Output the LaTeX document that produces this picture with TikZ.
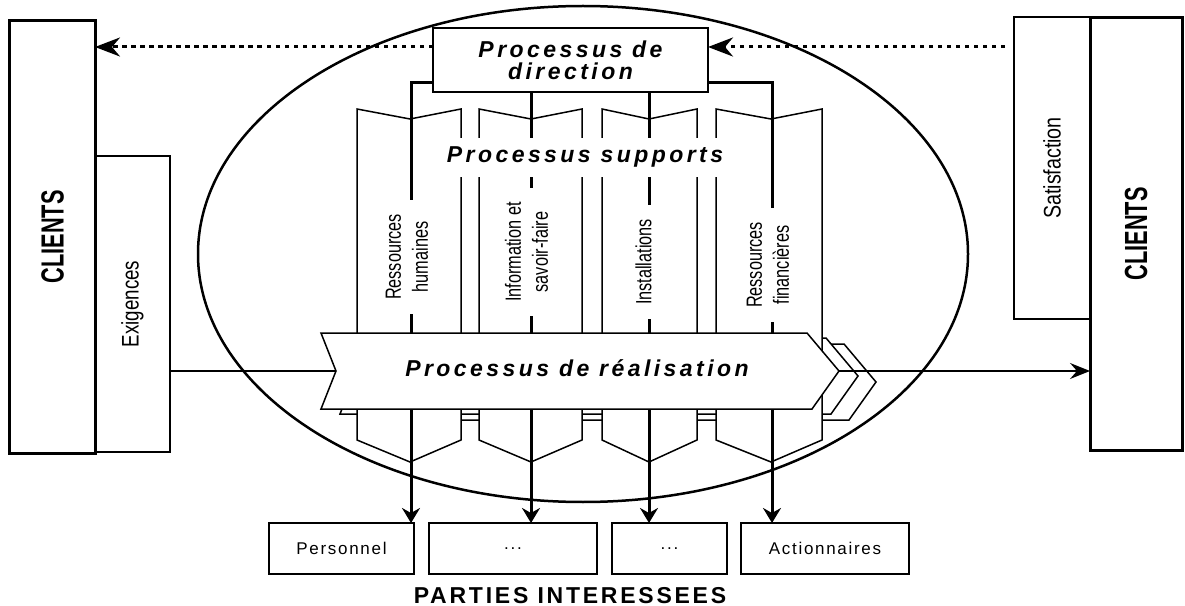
\documentclass[tikz,border=0pt]{standalone}
\usepackage{fontspec}
\setmainfont{Liberation Sans}
\newfontfamily\procf[LetterSpace=15]{Liberation Sans}
\newfontfamily\spacedf[LetterSpace=10]{Liberation Sans}
\newfontfamily\titlef[LetterSpace=12]{Liberation Sans}
\usepackage{graphicx}
\usetikzlibrary{arrows.meta}
\newcommand{\colt}[1]{\scalebox{0.74}[1]{\begin{tabular}{@{}c@{}}#1\end{tabular}}}
\begin{document}
\begin{tikzpicture}[x=1bp,y=-1bp,
  thinline/.style={line width=1.5bp, line join=miter},
  cbox/.style={draw, line width=3bp, fill=white, inner sep=0pt, outer sep=0pt,
    font=\bfseries\fontsize{32bp}{34bp}\selectfont},
  sbox/.style={draw, line width=1.5bp, fill=white, inner sep=0pt, outer sep=0pt,
    font=\fontsize{24bp}{26bp}\selectfont},
  pbox/.style={draw, line width=1.5bp, fill=white, inner sep=0pt, outer sep=0pt,
    minimum height=51bp, font=\spacedf\fontsize{17bp}{19bp}\selectfont},
  dbox/.style={draw, line width=2bp, fill=white, inner sep=0pt, outer sep=0pt,
    align=center, font=\procf\bfseries\itshape\fontsize{23bp}{22bp}\selectfont},
  proc/.style={font=\procf\bfseries\itshape\fontsize{23bp}{24bp}\selectfont},
  coltext/.style={rotate=90, fill=white, inner xsep=14bp, inner ysep=1bp,
    font=\fontsize{22bp}{27bp}\selectfont},
  colbox/.style={draw, line width=1.5bp, fill=white, line join=miter},
  conn/.style={line width=3bp, line join=miter, -{Stealth[length=15bp,width=18bp,inset=5bp]}},
  harrow/.style={line width=1.5bp, -{Stealth[length=20bp,width=16bp,inset=7bp]}},
  dotarrow/.style={line width=3bp, dash pattern=on 4.5bp off 4.5bp,
    -{Stealth[length=25bp,width=19bp,inset=8bp]}}
]
\useasboundingbox (0,0) rectangle (1185,606);

% ellipse
\draw[line width=2.5bp] (583,254) ellipse [x radius=385, y radius=248];

% back copies of the realisation arrow
\foreach \dx/\dy in {37/11,19/5}{
  \draw[thinline, fill=white, shift={(\dx,\dy)}]
    (321,333) -- (807,333) -- (839,371) -- (812,409) -- (321,409) -- (336,371) -- cycle;
}

% support process columns
\foreach \L/\R/\C in {357/461/410,479/582/531,602/697/649,716/822/771}{
  \draw[colbox] (\L,109) -- (\C,119) -- (\R,109) -- (\R,440) -- (\C,462) -- (\L,440) -- cycle;
}

% boxes
\node[dbox, minimum width=275bp, minimum height=64bp] (dir) at (570.5,60) {Processus de\\direction};
\node[pbox, minimum width=145bp] (pers) at (341.5,548.5) {Personnel};
\node[pbox, minimum width=168bp] (b2) at (513,548.5) {...};
\node[pbox, minimum width=115bp] (b3) at (669.5,548.5) {...};
\node[pbox, minimum width=168bp] (act) at (825,548.5) {Actionnaires};

% connectors from direction to stakeholders
\coordinate (b1c) at (411,83);
\coordinate (b4c) at (772,83);
\coordinate (x2) at (531,0);
\coordinate (x3) at (649,0);
\draw[conn] (dir.west |- b1c) -- (b1c) -- (b1c |- pers.north);
\draw[conn] (dir.east |- b4c) -- (b4c) -- (b4c |- act.north);
\draw[conn] (dir.south -| x2) -- (x2 |- b2.north);
\draw[conn] (dir.south -| x3) -- (x3 |- b3.north);

% front realisation arrow
\coordinate (notch) at (336,371);
\coordinate (tip) at (839,371);
\draw[thinline, fill=white] (321,333) -- (807,333) -- (tip) -- (812,409) -- (321,409) -- (notch) -- cycle;
\node[proc, anchor=base] (real) at (577,376) {Processus de réalisation};

% support texts
\node[proc, anchor=base, fill=white, inner xsep=3bp, inner ysep=9bp] (sup) at (585,163) {Processus supports};
\node[coltext] (t1) at (409,257) {\colt{Ressources\\humaines}};
\node[coltext] (t2) at (529,252) {\colt{Information et\\savoir-faire}};
\node[coltext] (t3) at (646,262) {\colt{Installations}};
\node[coltext] (t4) at (770,265) {\colt{Ressources\\financières}};

% client side boxes
\node[sbox, minimum width=75bp, minimum height=296bp] (ex) at (132.5,304) {\rotatebox{90}{\scalebox{0.78}[1]{Exigences}}};
\node[cbox, minimum width=85bp, minimum height=432bp] (cl) at (52.5,237) {\rotatebox{90}{\scalebox{0.68}[1]{CLIENTS}}};
\node[sbox, minimum width=76bp, minimum height=302bp] (sat) at (1052,168) {\rotatebox{90}{\scalebox{0.82}[1]{Satisfaction}}};
\node[cbox, minimum width=92bp, minimum height=432bp] (cr) at (1136,234) {\rotatebox{90}{\scalebox{0.68}[1]{CLIENTS}}};

% flow arrows
\draw[thinline] (ex.east |- notch) -- (notch);
\draw[harrow] (tip) -- (cr.west |- tip);

% dotted feedback arrows
\coordinate (ds) at (1005,47);
\draw[dotarrow] (ds) -- (dir.east |- ds);
\draw[dotarrow] (dir.west |- ds) -- (cl.east |- ds);

% title
\node[anchor=base, font=\titlef\bfseries\fontsize{23bp}{24bp}\selectfont, inner sep=0pt] (pi) at (570,603) {PARTIES INTERESSEES};
\end{tikzpicture}
\end{document}
